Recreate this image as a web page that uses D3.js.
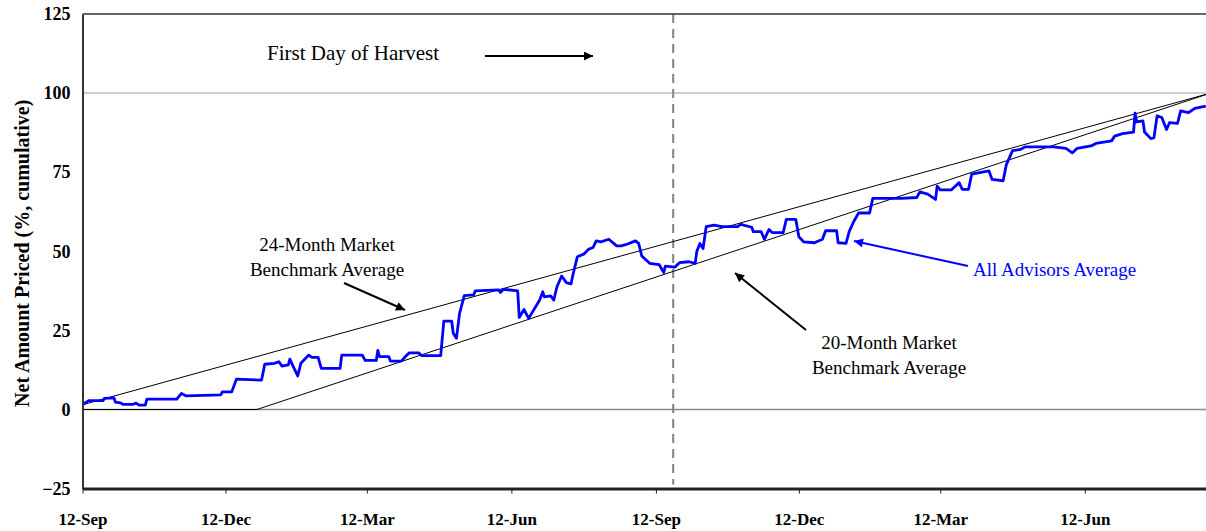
<!DOCTYPE html>
<html><head><meta charset="utf-8">
<script src="https://cdn.jsdelivr.net/npm/d3@7"></script>
<style>
html,body{margin:0;padding:0;background:#fff;}
svg{display:block;font-family:"Liberation Serif","Times New Roman",serif;}
</style></head>
<body>
<svg id="chart" width="1206" height="531"></svg>
<script>
// ---- data ----
const xTickDates = ["2005-09-12","2005-12-12","2006-03-12","2006-06-12","2006-09-12","2006-12-12","2007-03-12","2007-06-12"];
const yTicks = [-25, 0, 25, 50, 75, 100, 125];
const harvestDate = "2006-09-23";

const bench24Dates = ["2005-09-12","2007-08-31"];
const bench24Values = [1.5, 100];
const bench20Dates = ["2005-09-12","2006-01-01","2007-08-31"];
const bench20Values = [0, 0, 100];

const advisorDates = [
"2005-09-12","2005-09-16","2005-09-25","2005-09-26","2005-10-02","2005-10-03","2005-10-06","2005-10-08","2005-10-14","2005-10-16",
"2005-10-18","2005-10-22","2005-10-23","2005-11-11","2005-11-14","2005-11-17","2005-12-09","2005-12-10","2005-12-16","2005-12-19",
"2006-01-04","2006-01-06","2006-01-12","2006-01-15","2006-01-17","2006-01-21","2006-01-22","2006-01-24","2006-01-27","2006-01-29",
"2006-02-03","2006-02-05","2006-02-09","2006-02-11","2006-02-23","2006-02-24","2006-03-09","2006-03-11","2006-03-18","2006-03-19",
"2006-03-20","2006-03-26","2006-03-27","2006-04-03","2006-04-06","2006-04-08","2006-04-14","2006-04-16","2006-04-28","2006-04-30",
"2006-05-05","2006-05-06","2006-05-08","2006-05-10","2006-05-13","2006-05-19","2006-05-20","2006-06-04","2006-06-05","2006-06-07",
"2006-06-16","2006-06-17","2006-06-20","2006-06-23","2006-06-30","2006-07-02","2006-07-03","2006-07-07","2006-07-09","2006-07-11",
"2006-07-14","2006-07-17","2006-07-20","2006-07-21","2006-07-24","2006-07-28","2006-07-31","2006-08-03","2006-08-05","2006-08-08",
"2006-08-13","2006-08-18","2006-08-21","2006-08-25","2006-08-30","2006-09-01","2006-09-03","2006-09-08","2006-09-14","2006-09-17",
"2006-09-18","2006-09-24","2006-09-27","2006-10-03","2006-10-07","2006-10-08","2006-10-10","2006-10-12","2006-10-14","2006-10-19",
"2006-10-24","2006-11-03","2006-11-05","2006-11-12","2006-11-13","2006-11-18","2006-11-20","2006-11-23","2006-11-25","2006-12-02",
"2006-12-04","2006-12-10","2006-12-12","2006-12-15","2006-12-22","2006-12-24","2006-12-27","2006-12-29","2007-01-05","2007-01-06",
"2007-01-11","2007-01-13","2007-01-16","2007-01-19","2007-01-26","2007-01-28","2007-02-15","2007-02-25","2007-02-27","2007-03-04",
"2007-03-09","2007-03-10","2007-03-12","2007-03-19","2007-03-24","2007-03-26","2007-03-30","2007-04-01","2007-04-12","2007-04-14",
"2007-04-21","2007-04-23","2007-04-27","2007-05-02","2007-05-05","2007-05-23","2007-05-31","2007-06-04","2007-06-07","2007-06-16",
"2007-06-19","2007-06-29","2007-07-01","2007-07-06","2007-07-13","2007-07-14","2007-07-15","2007-07-19","2007-07-20","2007-07-24",
"2007-07-26","2007-07-28","2007-07-31","2007-08-03","2007-08-05","2007-08-10","2007-08-12","2007-08-17","2007-08-21","2007-08-28"
];
const advisorValues = [
1.6,2.8,2.8,3.5,3.7,2.3,2.1,1.6,1.6,2.0,
1.4,1.4,3.3,3.3,5.1,4.3,4.6,5.6,5.6,9.6,
9.3,14.3,14.6,15.1,13.7,14.1,15.9,13.7,10.6,14.6,
17.2,16.5,16.5,13.0,13.0,17.2,17.2,15.5,15.5,18.7,
16.7,16.7,15.3,15.3,17.0,17.9,17.9,17.0,17.0,27.9,
27.9,24.1,22.5,30.4,36.0,36.2,37.5,37.8,37.0,38.0,
37.5,29.1,31.6,28.8,34.6,37.2,35.6,35.9,34.6,38.8,
42.2,40.1,39.7,42.2,48.3,49.1,50.6,51.2,53.3,53.0,
53.8,51.7,51.7,52.3,53.3,52.5,48.5,46.2,45.8,43.3,
45.3,45.0,46.4,46.7,46.2,49.9,52.5,50.9,57.8,58.3,
57.8,57.8,58.5,57.6,56.2,56.2,53.8,56.9,55.9,55.9,
60.1,60.1,54.6,53.0,52.7,53.2,53.8,56.5,56.5,52.7,
52.5,56.2,59.5,62.1,62.1,66.7,66.7,67.0,68.8,68.1,
66.4,70.6,69.4,69.4,71.7,69.6,69.6,74.4,75.4,72.7,
72.3,77.3,81.8,82.2,83.0,83.0,82.5,81.1,82.5,83.3,
84.1,84.9,86.4,87.2,87.7,93.7,90.9,91.2,87.7,85.6,
85.9,92.8,92.3,88.5,90.7,90.4,94.4,93.8,95.2,95.9
];

// ---- drawing ----
const parse = d3.timeParse("%Y-%m-%d");
const svg = d3.select("#chart");
const x = d3.scaleTime().domain([parse("2005-09-12"), parse("2007-08-31")]).range([82.5, 1210.5]);
const y = d3.scaleLinear().domain([-25, 125]).range([488.6, 14]);

const line = d3.line().x(d => x(d[0])).y(d => y(d[1]));
const zip = (ds, vs) => ds.map((d, i) => [parse(d), vs[i]]);

// gridlines (100 and 0)
svg.append("line").attr("x1", x.range()[0]).attr("x2", x.range()[1]).attr("y1", y(100)).attr("y2", y(100))
  .attr("stroke", "#bdbdbd").attr("stroke-width", 1.5);
svg.append("line").attr("x1", x.range()[0]).attr("x2", x.range()[1]).attr("y1", y(0)).attr("y2", y(0))
  .attr("stroke", "#8a8a8a").attr("stroke-width", 1.5);

// harvest dashed line
svg.append("line").attr("x1", x(parse(harvestDate))).attr("x2", x(parse(harvestDate)))
  .attr("y1", y(125)).attr("y2", y(-25) - 4)
  .attr("stroke", "#808080").attr("stroke-width", 2).attr("stroke-dasharray", "9,6");

// benchmarks
svg.append("path").attr("d", line(zip(bench24Dates, bench24Values))).attr("fill", "none").attr("stroke", "#000").attr("stroke-width", 1);
svg.append("path").attr("d", line(zip(bench20Dates, bench20Values))).attr("fill", "none").attr("stroke", "#000").attr("stroke-width", 1);

// advisors
svg.append("path").attr("d", line(zip(advisorDates, advisorValues))).attr("fill", "none")
  .attr("stroke", "#0000ff").attr("stroke-width", 2.8).attr("stroke-linejoin", "round");

// frame
svg.append("line").attr("x1", x.range()[0]).attr("x2", x.range()[1]).attr("y1", y(125)).attr("y2", y(125))
  .attr("stroke", "#333").attr("stroke-width", 1.5);

// axes
const xAxis = d3.axisBottom(x).tickValues(xTickDates.map(parse)).tickFormat(d3.timeFormat("%d-%b")).tickSize(5).tickSizeOuter(0);
const gx = svg.append("g").attr("transform", `translate(0,${y(-25)})`).call(xAxis);
gx.select(".domain").attr("stroke", "#222").attr("stroke-width", 3);
gx.selectAll(".tick line").attr("stroke", "#222").attr("stroke-width", 1);
gx.selectAll(".tick text").attr("dy", 0).attr("y", 36).attr("font-family", "Liberation Serif").attr("font-size", 17)
  .attr("font-weight", "bold").attr("fill", "#000");

const yAxis = d3.axisLeft(y).tickValues(yTicks).tickSize(0).tickPadding(12);
const gy = svg.append("g").attr("transform", `translate(${x.range()[0]},0)`).call(yAxis);
gy.select(".domain").attr("stroke", "#333").attr("stroke-width", 2);
gy.selectAll(".tick text").attr("font-family", "Liberation Serif").attr("font-size", 18)
  .attr("font-weight", "bold").attr("fill", "#000");

svg.append("text").attr("transform", `translate(29,${(y(125)+y(-25))/2 + 2}) rotate(-90)`)
  .attr("text-anchor", "middle").attr("font-size", 20).attr("font-weight", "bold").text("Net Amount Priced (%, cumulative)");

// annotations
const defs = svg.append("defs");
defs.append("marker").attr("id", "ab").attr("viewBox", "0 0 10 10").attr("refX", 10).attr("refY", 5)
  .attr("markerWidth", 12).attr("markerHeight", 9).attr("markerUnits", "userSpaceOnUse")
  .attr("orient", "auto").append("path").attr("d", "M0,0 L10,5 L0,10 z").attr("fill", "#000");
defs.append("marker").attr("id", "au").attr("viewBox", "0 0 10 10").attr("refX", 10).attr("refY", 5)
  .attr("markerWidth", 12).attr("markerHeight", 9).attr("markerUnits", "userSpaceOnUse")
  .attr("orient", "auto").append("path").attr("d", "M0,0 L10,5 L0,10 z").attr("fill", "#0000ff");

function arrow(x1, y1, x2, y2, c, m) {
  svg.append("line").attr("x1", x1).attr("y1", y1).attr("x2", x2).attr("y2", y2)
    .attr("stroke", c).attr("stroke-width", 2).attr("marker-end", `url(#${m})`);
}
function label(lines, xx, yy, c, anchor) {
  const t = svg.append("text").attr("x", xx).attr("y", yy).attr("font-size", 19).attr("fill", c).attr("text-anchor", anchor);
  lines.forEach((s, i) => t.append("tspan").attr("x", xx).attr("dy", i ? 25 : 0).text(s));
}

svg.append("text").attr("x", 267).attr("y", 60).attr("font-size", 21).attr("fill", "#000").text("First Day of Harvest");
arrow(485, 56, 593, 56, "#000", "ab");

label(["24-Month Market", "Benchmark Average"], 327, 251, "#000", "middle");
arrow(344, 283, 405, 310, "#000", "ab");

label(["20-Month Market", "Benchmark Average"], 889, 349, "#000", "middle");
arrow(806, 330, 735, 273, "#000", "ab");

label(["All Advisors Average"], 973, 276, "#0000ff", "start");
arrow(968, 266, 854, 241, "#0000ff", "au");
</script>
</body></html>
